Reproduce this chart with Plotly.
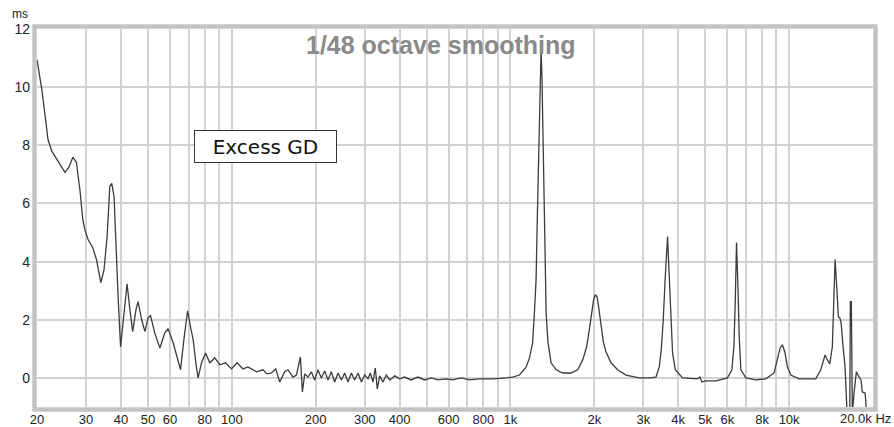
import plotly.graph_objects as go

# Frequency (Hz) and excess group delay (ms)
freq_hz = [
    20.0, 20.8, 21.4, 21.9, 22.6, 23.5, 24.5, 25.2, 26.0, 26.9, 27.7, 28.5, 29.2,
    29.7, 30.5, 31.7, 32.7, 33.9, 34.8, 35.7, 36.5, 37.1, 37.8, 38.4, 39.1, 39.9,
    41.0, 42.1, 43.1, 44.1, 45.3, 46.1, 47.5, 48.8, 50.1, 51.1, 52.9, 55.2, 57.5,
    59.1, 61.6, 64.2, 65.5, 67.3, 69.4, 71.1, 72.7, 74.3, 75.7, 77.9, 80.5, 83.4,
    86.9, 90.6, 94.9, 99.8, 104.5, 109.7, 114.3, 122.6, 129.5, 133.7, 138.8, 143.8,
    148.6, 154.9, 159.2, 165.9, 170.6, 176.3, 179.2, 182.7, 187.7,
    193.0, 198.4, 203.8, 209.6, 215.4, 221.4, 227.6, 234.0, 240.6, 247.3, 254.2,
    261.3, 268.7, 276.1, 283.9, 291.8, 299.9, 308.3, 314.1, 321.0, 327.4, 332.8,
    339.5, 348.6, 358.5, 368.8, 384.4, 400.7, 416.9, 440.5, 465.4, 491.9, 519.9,
    549.0, 588.4, 621.1, 665.8, 712.8, 774.0, 864.0, 965.0, 1019,
    1077, 1139, 1170, 1201, 1219, 1236, 1246, 1260, 1271, 1281, 1288, 1298, 1309,
    1324, 1343, 1363, 1399, 1459, 1539, 1650, 1743, 1817, 1877, 1919, 1955, 1988,
    2017, 2045, 2072, 2113, 2154, 2202, 2295, 2424, 2598, 2901, 3149, 3329, 3420,
    3477, 3535, 3594, 3663, 3715, 3767, 3818, 3904, 4145, 4690, 4783, 4863, 5000,
    5460, 6010, 6231, 6336, 6407, 6476, 6550, 6622, 6713, 6998, 7597, 8250, 8834,
    9079, 9282, 9459, 9648, 9857, 10139, 10857, 12467, 12991, 13463, 13720, 13995,
    14294, 14463, 14622, 14822, 15025, 15190, 15366, 15617, 15876, 16049, 16183,
    16504, 16585, 16723, 16862, 17101, 17428, 17824, 18121, 18302, 18725, 18828,
    18920,
]
excess_gd_ms = [
    10.95, 9.93, 9.0, 8.2, 7.8, 7.55, 7.28, 7.07, 7.24, 7.59, 7.41, 6.48, 5.45,
    5.1, 4.76, 4.48, 4.07, 3.28, 3.72, 4.86, 6.59, 6.69, 6.24, 4.52, 2.79, 1.07,
    2.24, 3.24, 2.34, 1.59, 2.34, 2.62, 2.0, 1.59, 2.07, 2.14, 1.55, 1.03, 1.55,
    1.69, 1.21, 0.52, 0.28, 1.31, 2.31, 1.76, 1.31, 0.52, 0.0, 0.52, 0.86, 0.52,
    0.69, 0.45, 0.52, 0.31, 0.52, 0.31, 0.38, 0.21, 0.28, 0.14, 0.17, 0.31,
    -0.14, 0.21, 0.28, 0.03, 0.1, 0.72, -0.48, 0.14, 0.03,
    0.21, -0.07, 0.28, 0.0, 0.24, -0.07, 0.21, -0.14, 0.17, -0.07, 0.17,
    -0.14, 0.17, -0.07, 0.17, -0.14, 0.1, -0.03, 0.17, -0.14, 0.34, -0.38,
    0.07, -0.14, 0.1, -0.07, 0.07, -0.03, 0.03, -0.07, 0.03, -0.07, 0.0,
    -0.07, -0.03, -0.07, 0.0, -0.07, -0.03, -0.03, 0.0, 0.03,
    0.1, 0.38, 0.69, 1.2, 2.24, 3.38, 5.1, 7.4, 9.1, 10.86, 11.3, 10.28, 7.97,
    4.52, 2.24, 1.24, 0.52, 0.28, 0.17, 0.17, 0.28, 0.62, 1.07, 1.66, 2.24, 2.69,
    2.86, 2.79, 2.45, 1.76, 1.24, 0.9, 0.52, 0.28, 0.1, 0.0, 0.0, 0.03, 0.38,
    0.97, 2.0, 3.48, 4.86, 3.48, 2.0, 0.86, 0.28, 0.0, -0.03, 0.03, -0.14, -0.1,
    -0.1, 0.0, 0.28, 1.07, 2.59, 4.66, 3.14, 1.41, 0.28, 0.0, -0.07, -0.03, 0.17,
    0.62, 1.03, 1.14, 0.9, 0.38, 0.1, -0.03, -0.03, 0.28, 0.79, 0.62, 0.48,
    1.07, 2.59, 4.07, 3.14, 2.1, 2.07, 1.9, 1.07, 0.38, -0.66, -1.45,
    -1.45, 2.62, 2.62, -1.2, -0.52, 0.21, 0.03, -0.07, -0.48, -0.52, -0.76,
    -1.1,
]

x_grid_vals = [20, 30, 40, 50, 60, 70, 80, 90, 100, 200, 300, 400, 500, 600, 700,
               800, 900, 1000, 2000, 3000, 4000, 5000, 6000, 7000, 8000, 9000,
               10000, 20000]
x_grid_text = ["20", "30", "40", "50", "60", "", "80", "", "100", "200", "300",
               "400", "", "600", "", "800", "", "1k", "2k", "3k", "4k", "5k", "6k",
               "", "8k", "", "10k", ""]
y_tick_vals = [0, 2, 4, 6, 8, 10, 12]
y_tick_text = ["0", "2", "4", "6", "8", "10", "12"]

W, H = 894, 427
ML, MR, MT, MB = 37, 21, 29, 20
PW, PH = W - ML - MR, H - MT - MB

fig = go.Figure()
fig.add_trace(go.Scatter(
    x=freq_hz, y=excess_gd_ms, mode="lines",
    line=dict(color="#3c3c3c", width=1.3),
    hoverinfo="skip", showlegend=False,
))

tick_font = dict(family="Liberation Sans, Arial, sans-serif", size=13, color="#222222")

fig.update_layout(
    width=W, height=H,
    margin=dict(l=ML, r=MR, t=MT, b=MB, autoexpand=False),
    paper_bgcolor="white", plot_bgcolor="white",
    xaxis=dict(
        type="log", range=[1.30103, 4.30103],
        tickvals=x_grid_vals, ticktext=x_grid_text,
        showgrid=True, gridcolor="#d2d2d2", gridwidth=1.5,
        zeroline=False, showline=False, ticks="",
        ticklabelstandoff=3, automargin=False,
        tickfont=tick_font, fixedrange=True,
    ),
    yaxis=dict(
        range=[-1, 12],
        tickvals=y_tick_vals, ticktext=y_tick_text,
        showgrid=True, gridcolor="#d2d2d2", gridwidth=1.5,
        zeroline=False, showline=False, ticks="",
        ticklabelstandoff=6, automargin=False,
        tickfont=dict(family="Liberation Sans, Arial, sans-serif", size=14, color="#222222"),
        fixedrange=True,
    ),
    font=dict(family="Liberation Sans, Arial, sans-serif"),
)

# Thick grey frame just outside the plot area
fx = 2.5 / PW
fy = 2.5 / PH
fig.add_shape(type="rect", xref="paper", yref="paper",
              x0=-fx, x1=1 + fx, y0=-fy, y1=1 + fy,
              line=dict(color="#c3c3c3", width=4.5), layer="above")

annotations = [
    dict(text="1/48 octave smoothing", xref="paper", yref="paper",
         x=(441 - ML) / PW, y=1, xanchor="center", yanchor="top", yshift=0,
         showarrow=False,
         font=dict(family="Liberation Sans, Arial, sans-serif", size=25,
                   color="#8a8a8a", weight="bold")),
    dict(text="Excess GD", xref="paper", yref="paper",
         x=(194 - ML) / PW, y=(H - MB - 130) / PH, xanchor="left", yanchor="top",
         showarrow=False, width=141, height=31, borderpad=0,
         bordercolor="#333333", borderwidth=1, bgcolor="white", align="center",
         font=dict(family="DejaVu Sans, Verdana, sans-serif", size=20, color="#111111")),
    dict(text="ms", xref="paper", yref="paper",
         x=(20 - ML) / PW, y=(H - MB - 14) / PH, xanchor="center", yanchor="middle",
         showarrow=False,
         font=dict(family="Liberation Sans, Arial, sans-serif", size=12, color="#222222")),
    dict(text="20.0k Hz", xref="paper", yref="paper",
         x=(893 - ML) / PW, y=-(418 - (H - MB)) / PH, xanchor="right", yanchor="middle",
         showarrow=False,
         font=dict(family="Liberation Sans, Arial, sans-serif", size=13, color="#222222")),
]
fig.update_layout(annotations=annotations)

fig.write_html("out.html")
